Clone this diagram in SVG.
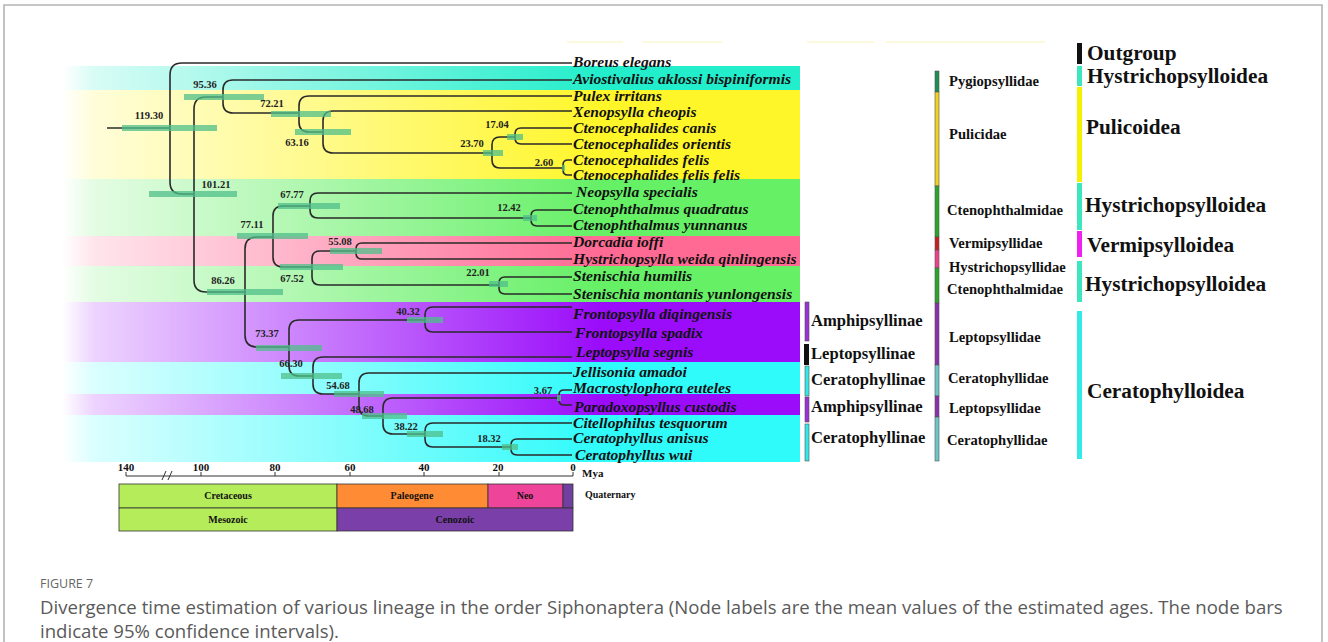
<svg xmlns="http://www.w3.org/2000/svg" width="1328" height="642" viewBox="0 0 1328 642">
<style>
.br{stroke:#2a2a2a;stroke-width:1.6;fill:none}
.bar{fill:#4fbf8a;opacity:0.75}
.nl{font-family:"Liberation Serif",serif;font-weight:bold;font-size:10.5px;text-anchor:middle;fill:#222}
.tip{font-family:"Liberation Serif",serif;font-style:italic;font-weight:bold;font-size:15.6px;fill:#111}
.sub{font-family:"Liberation Serif",serif;font-weight:bold;font-size:16.6px;fill:#111}
.fam{font-family:"Liberation Serif",serif;font-weight:bold;font-size:14.6px;fill:#111}
.sup{font-family:"Liberation Serif",serif;font-weight:bold;font-size:21.3px;fill:#111}
.ax{font-family:"Liberation Serif",serif;font-weight:bold;font-size:11px;fill:#111}
.per{font-family:"Liberation Serif",serif;font-weight:bold;font-size:10px;fill:#111;text-anchor:middle}
.perl{font-family:"Liberation Serif",serif;font-weight:bold;font-size:10px;fill:#111}
.cell{stroke:#333;stroke-width:0.8}
.fb{stroke:#555;stroke-width:0.6}
.cap{font-family:"Open Sans","Liberation Sans",sans-serif;font-size:18.6px;fill:#5a5a5a}
</style>
<defs>
<linearGradient id="gAq" gradientUnits="userSpaceOnUse" x1="62" y1="0" x2="600" y2="0"><stop offset="0" stop-color="#22eecb" stop-opacity="0"/><stop offset="0.06" stop-color="#22eecb" stop-opacity="0.18"/><stop offset="1" stop-color="#22eecb"/></linearGradient>
<linearGradient id="gYe" gradientUnits="userSpaceOnUse" x1="62" y1="0" x2="600" y2="0"><stop offset="0" stop-color="#fff62a" stop-opacity="0"/><stop offset="0.06" stop-color="#fff62a" stop-opacity="0.18"/><stop offset="1" stop-color="#fff62a"/></linearGradient>
<linearGradient id="gGr" gradientUnits="userSpaceOnUse" x1="62" y1="0" x2="600" y2="0"><stop offset="0" stop-color="#66f066" stop-opacity="0"/><stop offset="0.06" stop-color="#66f066" stop-opacity="0.18"/><stop offset="1" stop-color="#66f066"/></linearGradient>
<linearGradient id="gPk" gradientUnits="userSpaceOnUse" x1="62" y1="0" x2="600" y2="0"><stop offset="0" stop-color="#ff6a94" stop-opacity="0"/><stop offset="0.06" stop-color="#ff6a94" stop-opacity="0.18"/><stop offset="1" stop-color="#ff6a94"/></linearGradient>
<linearGradient id="gPu" gradientUnits="userSpaceOnUse" x1="62" y1="0" x2="600" y2="0"><stop offset="0" stop-color="#9a0cfa" stop-opacity="0"/><stop offset="0.06" stop-color="#9a0cfa" stop-opacity="0.18"/><stop offset="1" stop-color="#9a0cfa"/></linearGradient>
<linearGradient id="gCy" gradientUnits="userSpaceOnUse" x1="62" y1="0" x2="600" y2="0"><stop offset="0" stop-color="#30fbfb" stop-opacity="0"/><stop offset="0.06" stop-color="#30fbfb" stop-opacity="0.18"/><stop offset="1" stop-color="#30fbfb"/></linearGradient>
</defs>
<rect width="1328" height="642" fill="#fff"/>
<path d="M4 642 V5 H1322 V642" fill="none" stroke="#b4b4b4" stroke-width="1.6"/>
<g id="faint" stroke="#fbf7d2" stroke-width="1.5">
<line x1="567" y1="42" x2="623" y2="42"/><line x1="642" y1="42" x2="722" y2="42"/><line x1="807" y1="42" x2="874" y2="42"/><line x1="886" y1="42" x2="1045" y2="42"/>
</g>
<g id="bands">
<rect x="62" y="66" width="738" height="24" fill="url(#gAq)"/>
<rect x="62" y="90" width="738" height="89" fill="url(#gYe)"/>
<rect x="62" y="179" width="738" height="57" fill="url(#gGr)"/>
<rect x="62" y="236" width="738" height="30" fill="url(#gPk)"/>
<rect x="62" y="266" width="738" height="36" fill="url(#gGr)"/>
<rect x="62" y="302" width="738" height="60" fill="url(#gPu)"/>
<rect x="62" y="362" width="738" height="32" fill="url(#gCy)"/>
<rect x="62" y="394" width="738" height="21" fill="url(#gPu)"/>
<rect x="62" y="415" width="738" height="47" fill="url(#gCy)"/>
</g>
<g id="connectors" class="br">
<path d="M107 128 H170"/>
<path d="M572 63 H182 Q170 63 170 75 V182 Q170 194 182 194 H194"/>
<path d="M223 97 H206 Q194 97 194 109 V280 Q194 292 206 292 H245"/>
<path d="M572 80 H233 Q223 80 223 90 V103 Q223 113 233 113 H299"/>
<path d="M572 96 H309 Q299 96 299 106 V122 Q299 132 309 132 H323"/>
<path d="M572 111 H333 Q323 111 323 121 V143 Q323 153 333 153 H492"/>
<path d="M515 137 H500 Q492 137 492 145 V160 Q492 168 500 168 H563"/>
<path d="M572 128 H521 Q515 128 515 134 V138 Q515 144 521 144 H572"/>
<path d="M572 160 H568 Q563 160 563 165 V170 Q563 175 568 175 H572"/>
<path d="M273 237 H257 Q245 237 245 249 V335 Q245 347 257 347 H289"/>
<path d="M310 206 H283 Q273 206 273 216 V257 Q273 267 283 267 H312"/>
<path d="M572 193 H318 Q310 193 310 201 V210 Q310 218 318 218 H531"/>
<path d="M572 210 H537 Q531 210 531 216 V220 Q531 226 537 226 H572"/>
<path d="M356 251 H320 Q312 251 312 259 V277 Q312 285 320 285 H499"/>
<path d="M572 243 H362 Q356 243 356 249 V253 Q356 259 362 259 H572"/>
<path d="M572 277 H505 Q499 277 499 283 V288 Q499 294 505 294 H572"/>
<path d="M425 320 H299 Q289 320 289 330 V366 Q289 376 299 376 H313"/>
<path d="M572 307 H433 Q425 307 425 315 V324 Q425 332 433 332 H572"/>
<path d="M572 357 H323 Q313 357 313 367 V384 Q313 394 323 394 H359"/>
<path d="M572 373 H369 Q359 373 359 383 V406 Q359 416 369 416 H383"/>
<path d="M559 398 H393 Q383 398 383 408 V424 Q383 434 393 434 H425"/>
<path d="M572 390 H564 Q559 390 559 395 V400 Q559 405 564 405 H572"/>
<path d="M572 423 H433 Q425 423 425 431 V439 Q425 447 433 447 H511"/>
<path d="M572 439 H517 Q511 439 511 445 V449 Q511 455 517 455 H572"/>
</g>
<g id="node-119"><rect class="bar" x="122" y="125" width="95" height="6"/><text class="nl" x="149" y="119">119.30</text></g>
<g id="node-95"><rect class="bar" x="184" y="94" width="80" height="6"/><text class="nl" x="205" y="88">95.36</text></g>
<g id="node-72"><rect class="bar" x="271" y="111" width="60" height="6"/><text class="nl" x="272" y="107">72.21</text></g>
<g id="node-63"><rect class="bar" x="295" y="129" width="56" height="6"/><text class="nl" x="297" y="146">63.16</text></g>
<g id="node-23"><rect class="bar" x="483" y="150" width="20" height="6"/><text class="nl" x="472" y="147">23.70</text></g>
<g id="node-17"><rect class="bar" x="507" y="134" width="16" height="6"/><text class="nl" x="497" y="128">17.04</text></g>
<g id="node-2"><rect class="bar" x="562" y="165" width="3" height="6"/><text class="nl" x="544" y="166">2.60</text></g>
<g id="node-101"><rect class="bar" x="149" y="191" width="88" height="6"/><text class="nl" x="216" y="188">101.21</text></g>
<g id="node-86"><rect class="bar" x="207" y="289" width="76" height="6"/><text class="nl" x="223" y="284">86.26</text></g>
<g id="node-77"><rect class="bar" x="237" y="233" width="71" height="6"/><text class="nl" x="252" y="228">77.11</text></g>
<g id="node-6777"><rect class="bar" x="278" y="203" width="62" height="6"/><text class="nl" x="292" y="198">67.77</text></g>
<g id="node-12"><rect class="bar" x="523" y="215" width="14" height="6"/><text class="nl" x="509" y="211">12.42</text></g>
<g id="node-6752"><rect class="bar" x="280" y="264" width="63" height="6"/><text class="nl" x="292" y="282">67.52</text></g>
<g id="node-55"><rect class="bar" x="330" y="248" width="52" height="6"/><text class="nl" x="340" y="245">55.08</text></g>
<g id="node-22"><rect class="bar" x="489" y="281" width="19" height="6"/><text class="nl" x="478" y="276">22.01</text></g>
<g id="node-73"><rect class="bar" x="256" y="345" width="66" height="6"/><text class="nl" x="267" y="337">73.37</text></g>
<g id="node-40"><rect class="bar" x="407" y="317" width="36" height="6"/><text class="nl" x="408" y="315">40.32</text></g>
<g id="node-66"><rect class="bar" x="281" y="373" width="61" height="6"/><text class="nl" x="291" y="367">66.30</text></g>
<g id="node-54"><rect class="bar" x="334" y="391" width="50" height="6"/><text class="nl" x="338" y="389">54.68</text></g>
<g id="node-48"><rect class="bar" x="362" y="413" width="45" height="6"/><text class="nl" x="362" y="413">48.68</text></g>
<g id="node-3"><rect class="bar" x="557" y="395" width="4" height="6"/><text class="nl" x="543" y="394">3.67</text></g>
<g id="node-38"><rect class="bar" x="407" y="431" width="36" height="6"/><text class="nl" x="406" y="430">38.22</text></g>
<g id="node-18"><rect class="bar" x="502" y="444" width="16" height="6"/><text class="nl" x="489" y="442">18.32</text></g>
<g id="tips" class="tip">
<g id="tip-boreus"><text x="573" y="67">Boreus elegans</text></g>
<g id="tip-aviostivalius"><text x="573" y="84">Aviostivalius aklossi bispiniformis</text></g>
<g id="tip-pulex"><text x="573" y="101">Pulex irritans</text></g>
<g id="tip-xenopsylla"><text x="573" y="117">Xenopsylla cheopis</text></g>
<g id="tip-canis"><text x="573" y="133">Ctenocephalides canis</text></g>
<g id="tip-orientis"><text x="573" y="149">Ctenocephalides orientis</text></g>
<g id="tip-felis"><text x="573" y="165">Ctenocephalides felis</text></g>
<g id="tip-felisfelis"><text x="573" y="180">Ctenocephalides felis felis</text></g>
<g id="tip-neopsylla"><text x="576" y="197">Neopsylla specialis</text></g>
<g id="tip-quadratus"><text x="573" y="214">Ctenophthalmus quadratus</text></g>
<g id="tip-yunnanus"><text x="573" y="230">Ctenophthalmus yunnanus</text></g>
<g id="tip-dorcadia"><text x="573" y="247">Dorcadia ioffi</text></g>
<g id="tip-hystrichopsylla"><text x="573" y="264">Hystrichopsylla weida qinlingensis</text></g>
<g id="tip-humilis"><text x="573" y="281">Stenischia humilis</text></g>
<g id="tip-montanis"><text x="573" y="299">Stenischia montanis yunlongensis</text></g>
<g id="tip-diqingensis"><text x="573" y="319">Frontopsylla diqingensis</text></g>
<g id="tip-spadix"><text x="575" y="338">Frontopsylla spadix</text></g>
<g id="tip-leptopsylla"><text x="576" y="357">Leptopsylla segnis</text></g>
<g id="tip-jellisonia"><text x="573" y="377">Jellisonia amadoi</text></g>
<g id="tip-macrostylophora"><text x="573" y="393">Macrostylophora euteles</text></g>
<g id="tip-paradoxopsyllus"><text x="574" y="412">Paradoxopsyllus custodis</text></g>
<g id="tip-citellophilus"><text x="573" y="428">Citellophilus tesquorum</text></g>
<g id="tip-anisus"><text x="573" y="443">Ceratophyllus anisus</text></g>
<g id="tip-wui"><text x="575" y="460">Ceratophyllus wui</text></g>
</g>
<g id="subfamilies">
<g id="sf1"><rect class="fb" x="805" y="302" width="4" height="39" fill="#9b30d8"/><text class="sub" x="811" y="326">Amphipsyllinae</text></g>
<g id="sf2"><rect x="804" y="344" width="5" height="21" fill="#111"/><text class="sub" x="811" y="359">Leptopsyllinae</text></g>
<g id="sf3"><rect class="fb" x="805" y="366" width="4" height="30" fill="#30e8e8"/><text class="sub" x="811" y="385">Ceratophyllinae</text></g>
<g id="sf4"><rect class="fb" x="805" y="397" width="4" height="25" fill="#9b30d8"/><text class="sub" x="811" y="412">Amphipsyllinae</text></g>
<g id="sf5"><rect class="fb" x="805" y="424" width="4" height="37" fill="#30e8e8"/><text class="sub" x="811" y="443">Ceratophyllinae</text></g>
</g>
<g id="families">
<g id="f1"><rect class="fb" x="935" y="71" width="4" height="21" fill="#1a8f55"/><text class="fam" x="949" y="86">Pygiopsyllidae</text></g>
<g id="f2"><rect class="fb" x="935" y="92" width="4" height="94" fill="#f0d020"/><text class="fam" x="949" y="139">Pulicidae</text></g>
<g id="f3"><rect class="fb" x="935" y="186" width="4" height="51" fill="#2aa52a"/><text class="fam" x="947" y="215">Ctenophthalmidae</text></g>
<g id="f4"><rect class="fb" x="935" y="237" width="4" height="13" fill="#c81e1e"/><text class="fam" x="949" y="248">Vermipsyllidae</text></g>
<g id="f5"><rect class="fb" x="935" y="250" width="4" height="18" fill="#f0408a"/><text class="fam" x="949" y="272">Hystrichopsyllidae</text></g>
<g id="f6"><rect class="fb" x="935" y="268" width="4" height="35" fill="#2aa52a"/><text class="fam" x="947" y="294">Ctenophthalmidae</text></g>
<g id="f7"><rect class="fb" x="935" y="303" width="4" height="62" fill="#8a2fb0"/><text class="fam" x="949" y="342">Leptopsyllidae</text></g>
<g id="f8"><rect class="fb" x="935" y="365" width="4" height="31" fill="#6cc6c6"/><text class="fam" x="948" y="383">Ceratophyllidae</text></g>
<g id="f9"><rect class="fb" x="935" y="396" width="4" height="21" fill="#8a2fb0"/><text class="fam" x="949" y="413">Leptopsyllidae</text></g>
<g id="f10"><rect class="fb" x="935" y="417" width="4" height="44" fill="#6cc6c6"/><text class="fam" x="947" y="445">Ceratophyllidae</text></g>
</g>
<g id="superfamilies">
<g id="s1"><rect x="1077" y="43" width="5" height="21" fill="#111"/><text class="sup" x="1087" y="60">Outgroup</text></g>
<g id="s2"><rect x="1077" y="66" width="5" height="20" fill="#3ee6c0"/><text class="sup" x="1087" y="83">Hystrichopsylloidea</text></g>
<g id="s3"><rect x="1077" y="87" width="5" height="95" fill="#f5f000"/><text class="sup" x="1086" y="134">Pulicoidea</text></g>
<g id="s4"><rect x="1077" y="183" width="5" height="47" fill="#3ee6c0"/><text class="sup" x="1085" y="212">Hystrichopsylloidea</text></g>
<g id="s5"><rect x="1077" y="231" width="5" height="26" fill="#f020f0"/><text class="sup" x="1087" y="252">Vermipsylloidea</text></g>
<g id="s6"><rect x="1077" y="261" width="5" height="41" fill="#3ee6c0"/><text class="sup" x="1085" y="291">Hystrichopsylloidea</text></g>
<g id="s7"><rect x="1077" y="311" width="5" height="148" fill="#33eaea"/><text class="sup" x="1087" y="398">Ceratophylloidea</text></g>
</g>
<g id="timescale">
<line x1="126" y1="476" x2="573" y2="476" stroke="#333" stroke-width="1"/>
<g stroke="#333" stroke-width="1">
<line x1="126" y1="472" x2="126" y2="476"/><line x1="201" y1="472" x2="201" y2="476"/><line x1="275" y1="472" x2="275" y2="476"/><line x1="350" y1="472" x2="350" y2="476"/><line x1="424" y1="472" x2="424" y2="476"/><line x1="499" y1="472" x2="499" y2="476"/><line x1="573" y1="472" x2="573" y2="476"/>
<line x1="162" y1="480" x2="166" y2="471"/><line x1="168" y1="480" x2="172" y2="471"/>
</g>
<g class="ax" text-anchor="middle">
<text x="126" y="471">140</text><text x="201" y="471">100</text><text x="275" y="471">80</text><text x="350" y="471">60</text><text x="424" y="471">40</text><text x="498" y="471">20</text><text x="573" y="471">0</text>
</g>
<text class="ax" x="582" y="477">Mya</text>
<rect class="cell" x="119" y="484" width="218" height="24" fill="#b5ec5a"/>
<rect class="cell" x="337" y="484" width="151" height="24" fill="#ff8c35"/>
<rect class="cell" x="488" y="484" width="75" height="24" fill="#ee4499"/>
<rect class="cell" x="563" y="484" width="10" height="24" fill="#7040a0"/>
<rect class="cell" x="119" y="508" width="218" height="23" fill="#b5ec5a"/>
<rect class="cell" x="337" y="508" width="236" height="23" fill="#7a3fa8"/>
<text class="per" x="228" y="499">Cretaceous</text>
<text class="per" x="412" y="499">Paleogene</text>
<text class="per" x="525" y="499">Neo</text>
<text class="per" x="228" y="523">Mesozoic</text>
<text class="per" x="455" y="523">Cenozoic</text>
<text class="perl" x="585" y="498">Quaternary</text>
</g>
<g id="caption">
<text x="40" y="588" font-family="'Open Sans','Liberation Sans',sans-serif" font-size="12.5" fill="#666">FIGURE 7</text>
<text class="cap" x="40" y="614">Divergence time estimation of various lineage in the order Siphonaptera (Node labels are the mean values of the estimated ages. The node bars</text>
<text class="cap" x="40" y="638">indicate 95% confidence intervals).</text>
</g>
</svg>
